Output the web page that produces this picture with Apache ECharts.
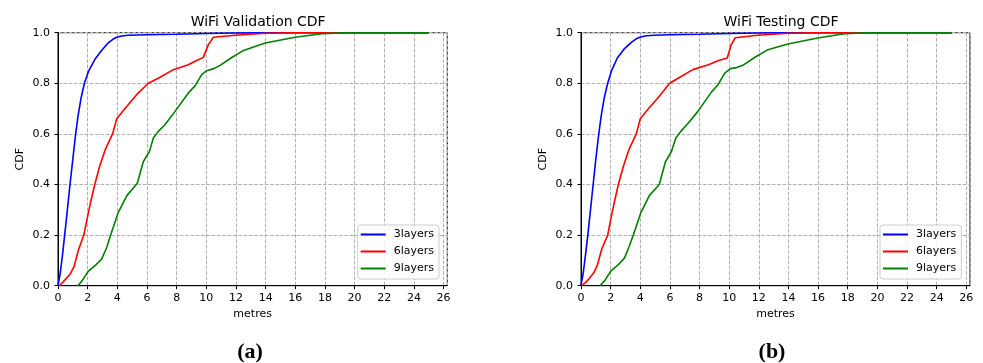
<!DOCTYPE html>
<html><head><meta charset="utf-8">
<script src="https://cdn.jsdelivr.net/npm/echarts@6/dist/echarts.min.js"></script>
<style>html,body{margin:0;padding:0;background:#fff}#c{width:983px;height:363px}</style>
</head><body><div id="c"></div>
<script>
// ---- data ----
const seriesNames = ['3layers', '6layers', '9layers'];
const seriesColors = ['#0000ff', '#ff0000', '#008000'];
const panelTitles = ['WiFi Validation CDF', 'WiFi Testing CDF'];
const panelCaptions = ['(a)', '(b)'];
const xName = 'metres';
const yName = 'CDF';

// Validation panel
const valid3 = [[0,0],[0.15,0.05],[0.3,0.12],[0.45,0.2],[0.63,0.3],[0.81,0.4],[1.0,0.5],[1.19,0.6],[1.35,0.67],[1.55,0.74],[1.78,0.8],[2.04,0.845],[2.49,0.895],[2.94,0.93],[3.39,0.96],[3.7,0.974],[3.96,0.982],[4.3,0.987],[4.74,0.99],[6,0.992],[8,0.994],[10,0.997],[12,0.999],[15,1],[25,1]];
const valid6 = [[0.1,0],[0.3,0.012],[0.5,0.025],[0.81,0.045],[1.08,0.075],[1.37,0.14],[1.74,0.2],[1.95,0.26],[2.2,0.33],[2.48,0.4],[2.8,0.47],[3.2,0.54],[3.68,0.6],[3.96,0.66],[4.52,0.70],[5.3,0.755],[6.09,0.8],[6.76,0.82],[7.78,0.854],[8.79,0.873],[9.24,0.887],[9.8,0.9025],[10.14,0.953],[10.48,0.982],[11.94,0.99],[14,0.998],[16,1],[25,1]];
const valid9 = [[1.33,0],[1.6,0.017],[2.04,0.057],[2.49,0.079],[2.94,0.105],[3.28,0.15],[3.55,0.2],[4.07,0.29],[4.63,0.355],[5.35,0.405],[5.75,0.49],[6.16,0.53],[6.43,0.584],[6.76,0.61],[7.21,0.636],[7.89,0.689],[8.79,0.762],[9.24,0.79],[9.69,0.834],[10.03,0.85],[10.5,0.858],[10.93,0.871],[11.72,0.902],[12.51,0.93],[13.97,0.959],[15.99,0.982],[17.8,0.996],[19.4,1],[25,1]];

// Testing panel
const test3 = [[0,0],[0.15,0.05],[0.3,0.12],[0.46,0.2],[0.64,0.3],[0.82,0.4],[1.0,0.5],[1.2,0.6],[1.36,0.67],[1.56,0.74],[1.8,0.8],[2.06,0.85],[2.45,0.9],[2.9,0.935],[3.4,0.962],[3.7,0.975],[3.96,0.982],[4.4,0.988],[4.97,0.99],[6,0.992],[8,0.994],[10,0.997],[12,0.999],[15,1],[25,1]];
const test6 = [[0.05,0],[0.3,0.012],[0.55,0.028],[0.85,0.05],[1.1,0.08],[1.4,0.145],[1.8,0.2],[2.0,0.26],[2.25,0.33],[2.52,0.4],[2.85,0.47],[3.25,0.54],[3.73,0.6],[4.0,0.66],[4.56,0.70],[5.3,0.75],[5.98,0.8],[6.7,0.825],[7.55,0.854],[8.6,0.873],[9.24,0.889],[9.87,0.9],[10.14,0.953],[10.41,0.98],[11.9,0.99],[14,0.998],[16,1],[25,1]];
const test9 = [[1.28,0],[1.6,0.02],[2.04,0.06],[2.5,0.082],[2.94,0.11],[3.25,0.155],[3.53,0.2],[4.05,0.29],[4.6,0.355],[5.28,0.4],[5.7,0.49],[6.1,0.53],[6.4,0.584],[6.76,0.612],[7.2,0.64],[7.9,0.69],[8.8,0.765],[9.24,0.794],[9.7,0.84],[10.09,0.858],[10.5,0.862],[10.92,0.871],[11.71,0.902],[12.61,0.933],[13.96,0.955],[15.98,0.979],[17.78,0.996],[19.4,1],[25,1]];

const panelData = [[valid3, valid6, valid9], [test3, test6, test9]];

// ---- chart ----
const FONT = 'DejaVu Sans';
const grids = [
  {left: 58, top: 32.7, width: 389.3, height: 253},
  {left: 581, top: 32.7, width: 389, height: 253}
];
const legendPos = [{left: 357.7, top: 225}, {left: 880, top: 225}];

const chart = echarts.init(document.getElementById('c'), null, {renderer: 'canvas'});

const option = {
  animation: false,
  backgroundColor: '#fff',
  title: grids.map((g, i) => ({
    text: panelTitles[i],
    left: g.left + g.width / 2 + 0.5,
    top: 10,
    textAlign: 'center',
    textStyle: {fontFamily: FONT, fontSize: 14, fontWeight: 'normal', color: '#000'}
  })),
  grid: grids.map(g => Object.assign({show: true, borderColor: '#000', borderWidth: 1, backgroundColor: 'transparent'}, g)),
  xAxis: grids.map((g, i) => ({
    gridIndex: i, type: 'value', min: 0, max: 26.25, interval: 2,
    axisLine: {show: true, onZero: false, lineStyle: {color: '#000', width: 1}},
    axisTick: {show: true, length: 3.5, lineStyle: {color: '#000', width: 1}},
    axisLabel: {showMaxLabel: false, color: '#000', fontFamily: FONT, fontSize: 11, margin: 7,
      formatter: v => (Math.abs(v - Math.round(v)) < 1e-9 ? String(v) : '')},
    splitLine: {show: true, lineStyle: {color: '#b0b0b0', width: 1, type: [3.7, 1.6]}}
  })),
  yAxis: grids.map((g, i) => ({
    gridIndex: i, type: 'value', min: 0, max: 1, interval: 0.2,
    axisLine: {show: true, lineStyle: {color: '#000', width: 1}},
    axisTick: {show: true, length: 3.5, lineStyle: {color: '#000', width: 1}},
    axisLabel: {color: '#000', fontFamily: FONT, fontSize: 11, margin: 8, formatter: v => v.toFixed(1)},
    splitLine: {show: true, lineStyle: {color: '#b0b0b0', width: 1, type: [3.7, 1.6]}}
  })),
  legend: legendPos.map(p => ({
    data: seriesNames, orient: 'vertical', left: p.left, top: p.top,
    icon: 'rect', itemWidth: 25, itemHeight: 2, itemGap: 4,
    padding: [3, 5, 4, 3],
    backgroundColor: 'rgba(255,255,255,0.85)', borderColor: '#cccccc', borderWidth: 1, borderRadius: 3,
    textStyle: {fontFamily: FONT, fontSize: 11, color: '#000', lineHeight: 13, padding: [0, 0, 0, 3]},
    selectedMode: false
  })),
  series: [],
  graphic: []
};

panelData.forEach((arrs, p) => {
  arrs.forEach((d, k) => {
    option.series.push({
      name: seriesNames[k], type: 'line', xAxisIndex: p, yAxisIndex: p,
      data: d, symbol: 'none', showSymbol: false, smooth: false,
      lineStyle: {color: seriesColors[k], width: 1.6}, itemStyle: {color: seriesColors[k]},
      z: 3
    });
  });
  const g = grids[p];
  option.graphic.push(
    {type: 'text', rotation: Math.PI / 2, x: g.left - 37.5, y: g.top + g.height / 2,
     style: {text: yName, fontFamily: FONT, fontSize: 11, fill: '#000', textAlign: 'center', textVerticalAlign: 'middle'}},
    {type: 'text', x: g.left + g.width / 2, y: 314.5,
     style: {text: xName, fontFamily: FONT, fontSize: 11, fill: '#000', textAlign: 'center', textVerticalAlign: 'middle'}},
    {type: 'text', x: p === 0 ? 250 : 772, y: 352.5,
     style: {text: panelCaptions[p], fontFamily: 'Liberation Serif', fontWeight: 'bold', fontSize: 22, fill: '#000', textAlign: 'center', textVerticalAlign: 'middle'}}
  );
});

chart.setOption(option);
</script>
</body></html>
